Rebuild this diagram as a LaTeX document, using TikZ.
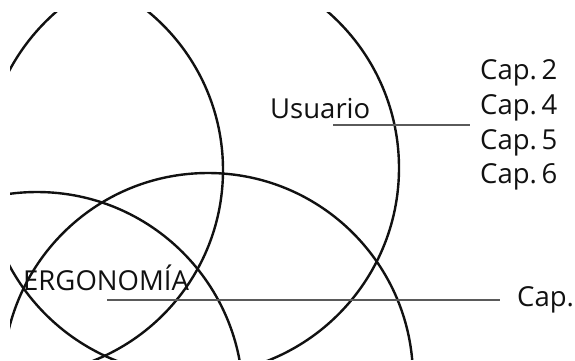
\documentclass[tikz,border=0pt]{standalone}
\usepackage{fontspec}
\setmainfont{Open Sans}
\usetikzlibrary{positioning}
\definecolor{RingInk}{HTML}{111111}
\definecolor{LeadGray}{HTML}{5A5A5A}
\tikzset{
  ring/.style={draw=RingInk, line width=2.4pt},
  leadline/.style={draw=LeadGray, line width=1.8pt},
  tag/.style={font=\fontsize{27.5}{34.7}\selectfont, inner sep=0pt, text=RingInk},
  caplist/.style={tag, align=left, inner xsep=10pt}
}
\begin{document}
\begin{tikzpicture}[x=1pt,y=-1pt]
  \useasboundingbox (0,0) rectangle (575,360);

  % the four rings, cut at the frame
  \begin{scope}
    \clip (10,12) rectangle (575,359);
    \draw[ring] (192,168) circle (207pt);
    \draw[ring] (18,170) circle (205pt);
    \draw[ring] (37,398) circle (206pt);
    \draw[ring] (208,378) circle (205pt);
  \end{scope}

  % labels
  \node[tag, anchor=base west] (usr) at (270,118) {Usuario};
  \node[caplist, anchor=west] (caps) at (470,125) {Cap.\,2\\Cap.\,4\\Cap.\,5\\Cap.\,6};
  \coordinate (usrfoot) at (333,125);
  \draw[leadline] (usrfoot) -- (caps.west);

  \node[tag, anchor=base west] (erg) at (23,290) {ERGONOMÍA};
  \node[tag, anchor=west, inner xsep=17pt] (capone) at (500,300) {Cap.};
  \coordinate (ergfoot) at (107,300);
  \draw[leadline] (ergfoot) -- (capone.west);
\end{tikzpicture}
\end{document}
